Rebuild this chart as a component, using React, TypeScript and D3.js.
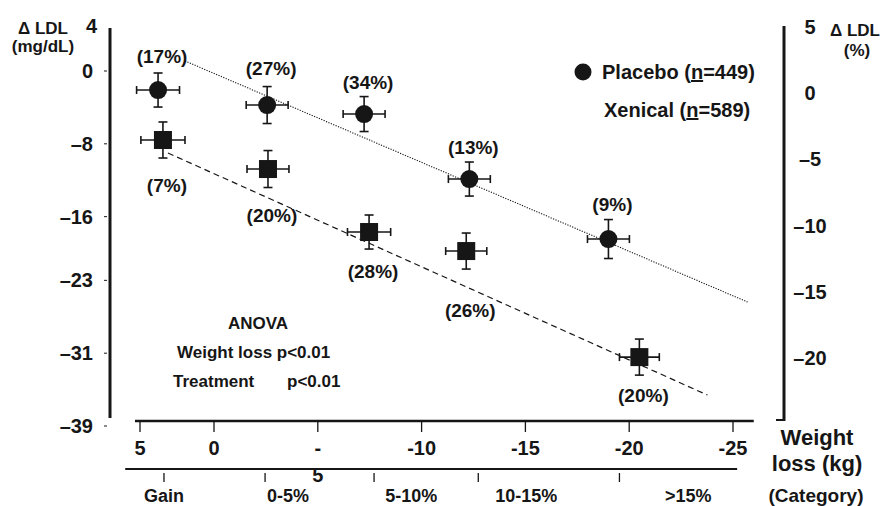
import * as d3 from "d3";

// category of weight change
const categories = ["Gain", "0-5%", "5-10%", "10-15%", ">15%"];
const categoryTickKg = [3.38, -2.46, -7.71, -12.73, -19.53];
const categoryLabelKg = [3.38, -3.57, -9.5, -15.04, -22.85];

// placebo group: mean weight change (kg), mean change in LDL (mg/dL), SE
const placeboKg = [3.78, -2.56, -7.23, -12.3, -19.0];
const placeboKgErr = [1.45, 1.01, 1.01, 1.01, 1.01];
const placeboLdl = [-2.09, -3.74, -4.73, -11.87, -18.46];
const placeboLdlErr = [1.87, 2.03, 1.92, 1.87, 2.14];
const placeboPct = [17, 27, 34, 13, 9];

// xenical group
const xenicalKg = [3.45, -2.6, -7.47, -12.15, -20.49];
const xenicalKgErr = [1.49, 1.01, 1.04, 0.99, 0.96];
const xenicalLdl = [-7.58, -10.77, -17.69, -19.78, -31.43];
const xenicalLdlErr = [1.98, 2.03, 1.87, 1.98, 1.98];
const xenicalPct = [7, 20, 28, 26, 20];

// fitted regression lines [kg, ldl] start/end
const placeboFit = [[1.96, 1.1], [-25.7, -25.38]];
const xenicalFit = [[3.11, -9.01], [-23.77, -35.6]];

// axes
const leftTicks = [4, 0, -8, -16, -23, -31, -39];
const rightTicks = [5, 0, -5, -10, -15, -20];
const kgTicks = [5, 0, -5, -10, -15, -20, -25];
const kgTickLabels = ["5", "0", "-\n5", "-10", "-15", "-20", "-25"];

// label offsets (px) for the % annotations
const placeboPctDy = [-34, -37, -32, -32, -35];
const xenicalPctDy = [45, 46, 39, 59, 38];

const W = 882;
const H = 506;
const INK = "#161616";
const FONT = "'Liberation Sans', Arial, Helvetica, sans-serif";

export default function App() {
  const x = d3.scaleLinear().domain([5, 0, -25]).range([140, 214, 733]);
  const yL = d3.scaleLinear().domain([0, -39]).range([71, 426]);
  const yR = d3.scaleLinear().domain([5, -20]).range([27, 358]);

  const axisY = 421;
  const catY = 469;
  const leftX = 110;
  const rightX = 784;

  const errorBars = (kg: number[], kgErr: number[], ldl: number[], ldlErr: number[]) =>
    kg.map((k, i) => {
      const cx = x(k);
      const cy = yL(ldl[i]);
      const x0 = x(k + kgErr[i]);
      const x1 = x(k - kgErr[i]);
      const y0 = yL(ldl[i] + ldlErr[i]);
      const y1 = yL(ldl[i] - ldlErr[i]);
      return (
        <g key={i} stroke={INK} strokeWidth={1.6}>
          <line x1={x0} x2={x1} y1={cy} y2={cy} />
          <line x1={x0} x2={x0} y1={cy - 4} y2={cy + 4} />
          <line x1={x1} x2={x1} y1={cy - 4} y2={cy + 4} />
          <line x1={cx} x2={cx} y1={y0} y2={y1} />
          <line x1={cx - 4.5} x2={cx + 4.5} y1={y0} y2={y0} />
          <line x1={cx - 4.5} x2={cx + 4.5} y1={y1} y2={y1} />
        </g>
      );
    });

  const fitLine = (fit: number[][], dash: string, width: number) => (
    <line
      x1={x(fit[0][0])}
      y1={yL(fit[0][1])}
      x2={x(fit[1][0])}
      y2={yL(fit[1][1])}
      stroke={INK}
      strokeWidth={width}
      strokeDasharray={dash}
    />
  );

  return (
    <svg
      width={W}
      height={H}
      style={{ position: "absolute", left: 0, top: 0, background: "#fff" }}
      fontFamily={FONT}
      fontWeight="bold"
      fill={INK}
    >
      <rect width={W} height={H} fill="#fff" />

      {/* regression lines */}
      {fitLine(placeboFit, "1.2,1.4", 1.1)}
      {fitLine(xenicalFit, "6,4", 1.2)}

      {/* left axis */}
      <line x1={leftX} x2={leftX} y1={28} y2={418} stroke={INK} strokeWidth={3} />
      {leftTicks.map((t) => (
        <g key={t}>
          {t !== 4 && (
            <line x1={leftX - 6} x2={leftX - 3} y1={yL(t)} y2={yL(t)} stroke={INK} strokeWidth={1} />
          )}
          <text
            x={t === 4 ? 97 : 93}
            y={t === 4 ? 26 : yL(t)}
            dy="0.35em"
            textAnchor="end"
            fontSize={20}
          >
            {t < 0 ? `\u2013${Math.abs(t)}` : t}
          </text>
        </g>
      ))}
      <text x={43} y={34} textAnchor="middle" fontSize={17}>
        Δ LDL
      </text>
      <text x={43} y={52} textAnchor="middle" fontSize={17}>
        (mg/dL)
      </text>

      {/* right axis */}
      <line x1={rightX} x2={rightX} y1={26} y2={421} stroke={INK} strokeWidth={3} />
      <line x1={rightX - 8} x2={rightX} y1={420} y2={420} stroke={INK} strokeWidth={2} />
      {rightTicks.map((t) => (
        <text key={t} x={810} y={yR(t)} dy="0.35em" textAnchor="middle" fontSize={20}>
          {t < 0 ? `\u2013${Math.abs(t)}` : t}
        </text>
      ))}
      <text x={855} y={36} textAnchor="middle" fontSize={17}>
        Δ LDL
      </text>
      <text x={857} y={56} textAnchor="middle" fontSize={17}>
        (%)
      </text>

      {/* weight loss axis */}
      <line x1={x(5.34)} x2={x(-26.0)} y1={axisY} y2={axisY} stroke={INK} strokeWidth={2.5} />
      {kgTicks.map((t, i) => {
        const parts = kgTickLabels[i].split("\n");
        return (
          <g key={t}>
            <line x1={x(t)} x2={x(t)} y1={axisY} y2={axisY + 11} stroke={INK} strokeWidth={1.3} />
            {parts.map((p, j) => (
              <text
                key={j}
                x={x(t)}
                y={axisY + 27 + j * 27}
                dy="0.35em"
                textAnchor="middle"
                fontSize={20}
              >
                {p}
              </text>
            ))}
          </g>
        );
      })}
      <text x={817} y={445} textAnchor="middle" fontSize={22}>
        Weight
      </text>
      <text x={817} y={471} textAnchor="middle" fontSize={22}>
        loss (kg)
      </text>

      {/* category axis */}
      <line x1={x(6.0)} x2={x(-25.2)} y1={catY} y2={catY} stroke={INK} strokeWidth={2} />
      {categoryTickKg.map((k, i) => (
        <line key={i} x1={x(k)} x2={x(k)} y1={catY + 4} y2={catY + 13} stroke={INK} strokeWidth={1.3} />
      ))}
      {categories.map((c, i) => (
        <text key={c} x={x(categoryLabelKg[i])} y={496} dy="0.35em" textAnchor="middle" fontSize={18}>
          {c}
        </text>
      ))}
      <text x={816} y={495} dy="0.35em" textAnchor="middle" fontSize={19}>
        (Category)
      </text>

      {/* error bars + markers */}
      {errorBars(placeboKg, placeboKgErr, placeboLdl, placeboLdlErr)}
      {errorBars(xenicalKg, xenicalKgErr, xenicalLdl, xenicalLdlErr)}
      {placeboKg.map((k, i) => (
        <circle key={i} cx={x(k)} cy={yL(placeboLdl[i])} r={9} fill={INK} />
      ))}
      {xenicalKg.map((k, i) => (
        <rect key={i} x={x(k) - 9} y={yL(xenicalLdl[i]) - 9} width={18} height={18} fill={INK} />
      ))}

      {/* % annotations */}
      {placeboPct.map((p, i) => (
        <text
          key={i}
          x={x(placeboKg[i]) + 4}
          y={yL(placeboLdl[i]) + placeboPctDy[i]}
          dy="0.35em"
          textAnchor="middle"
          fontSize={19}
        >
          ({p}%)
        </text>
      ))}
      {xenicalPct.map((p, i) => (
        <text
          key={i}
          x={x(xenicalKg[i]) + 4}
          y={yL(xenicalLdl[i]) + xenicalPctDy[i]}
          dy="0.35em"
          textAnchor="middle"
          fontSize={19}
        >
          ({p}%)
        </text>
      ))}

      {/* legend */}
      <circle cx={583} cy={72} r={8.5} fill={INK} />
      <text x={602} y={72} dy="0.35em" fontSize={20}>
        Placebo (<tspan textDecoration="underline">n</tspan>=449)
      </text>
      <text x={604} y={110} dy="0.35em" fontSize={20}>
        Xenical (<tspan textDecoration="underline">n</tspan>=589)
      </text>

      {/* ANOVA */}
      <text x={258} y={323} dy="0.35em" textAnchor="middle" fontSize={17}>
        ANOVA
      </text>
      <text x={177} y={352} dy="0.35em" fontSize={17}>
        Weight loss p&lt;0.01
      </text>
      <text x={173} y={381} dy="0.35em" fontSize={17}>
        Treatment
      </text>
      <text x={287} y={381} dy="0.35em" fontSize={17}>
        p&lt;0.01
      </text>
    </svg>
  );
}
